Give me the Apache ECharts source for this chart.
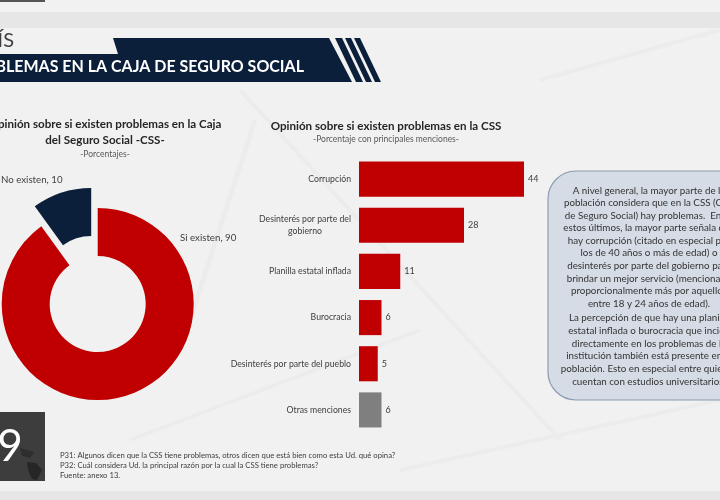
<!DOCTYPE html>
<html>
<head>
<meta charset="utf-8">
<style>html,body{margin:0;padding:0;background:#f0f0f0}#chart{width:720px;height:500px}</style>
<script src="https://cdn.jsdelivr.net/npm/echarts@6/dist/echarts.min.js"></script>
</head>
<body>
<div id="chart"></div>
<script>
// Encuesta: problemas en la Caja de Seguro Social
const pieNames = ['Si existen', 'No existen'];
const pieValues = [90, 10];
const barCategories = [
  'Corrupción',
  'Desinterés por parte del\ngobierno',
  'Planilla estatal inflada',
  'Burocracia',
  'Desinterés por parte del pueblo',
  'Otras menciones'
];
const barValues = [44, 28, 11, 6, 5, 6];
const RED = '#c00000', NAVY = '#0b1f3a', GREY = '#7f7f7f';
const FONT = 'Lato';

const noteLines1 = [
  'A nivel general, la mayor parte de la',
  'población considera que en la CSS (Caja',
  'de Seguro Social) hay problemas.  Entre',
  'estos últimos, la mayor parte señala que',
  'hay corrupción (citado en especial por',
  'los de 40 años o más de edad) o',
  'desinterés por parte del gobierno para',
  'brindar un mejor servicio (mencionado',
  'proporcionalmente más por aquellos',
  'entre 18 y 24 años de edad).'
];
const noteLines2 = [
  'La percepción de que hay una planilla',
  'estatal inflada o burocracia que incide',
  'directamente en los problemas de la',
  'institución también está presente en la',
  'población. Esto en especial entre quienes',
  'cuentan con estudios universitarios.'
];
const footnotes = [
  'P31: Algunos dicen que la CSS tiene problemas, otros dicen que está bien como esta Ud. qué opina?',
  'P32: Cuál considera Ud. la principal razón por la cual la CSS tiene problemas?',
  'Fuente: anexo 13.'
];

const poly = (points, fill, z) => ({ type: 'polygon', z: z, silent: true, shape: { points }, style: { fill } });
const rect = (x, y, width, height, fill, z) => ({ type: 'rect', z: z, silent: true, shape: { x, y, width, height }, style: { fill } });
const faint = (x1, y1, x2, y2, w) => ({
  type: 'line', z: -9, silent: true, shape: { x1, y1, x2, y2 },
  style: { stroke: '#ececec', lineWidth: w }
});
const text = (x, y, t, size, color, extra, scaleX) => ({
  type: 'text', z: 3, silent: true, x, y, scaleX: scaleX || 1,
  style: Object.assign({ text: t, fontFamily: FONT, fontSize: size, fill: color, align: 'center', verticalAlign: 'middle' }, extra || {})
});

const graphic = [
  // Fondo de la lámina
  rect(0, 0, 720, 500, '#f1f1f1', -10),
  rect(0, 12, 720, 16, '#e6e6e6', -9),
  rect(0, 491, 720, 9, '#e6e6e6', -9),
  rect(0, 0, 45, 2, '#555555', -8),
  faint(255, 120, 190, 320, 5),
  faint(240, 90, 560, 440, 4),
  faint(130, 440, 420, 330, 4),
  faint(540, 80, 720, 30, 4),
  faint(400, 470, 720, 400, 4),
  // Encabezado
  poly([[113, 38], [329, 38], [352, 82], [0, 82], [0, 54], [118, 54]], NAVY, 1),
  poly([[335, 38], [342, 38], [363, 82], [356, 82]], NAVY, 1),
  poly([[345, 38], [351, 38], [372, 82], [366, 82]], NAVY, 1),
  poly([[354, 38], [360, 38], [381, 82], [375, 82]], NAVY, 1),
  text(14, 41, 'PAÍS', 20, '#404040', { align: 'right' }),
  text(304, 67, 'PROBLEMAS EN LA CAJA DE SEGURO SOCIAL', 17, '#ffffff', { align: 'right', fontWeight: 'bold' }, 0.94),
  // Recuadro de comentario
  {
    type: 'rect', z: 1, silent: true,
    shape: { x: 548, y: 171, width: 210, height: 229, r: 28 },
    style: { fill: '#d6dce5', stroke: '#8c9bb0', lineWidth: 1.2 }
  },
  // Número de página
  rect(0, 412, 45, 69, '#3d3d3d', 1),
  poly([[27, 462], [36, 463], [42, 470], [37, 480], [32, 479], [28, 470]], '#262626', 2),
  poly([[20, 448], [34, 452], [30, 458], [22, 456]], '#2e2e2e', 2),
  text(10, 447, '9', 44, '#ffffff', { fontWeight: 'normal' })
];
noteLines1.forEach((t, i) => graphic.push(text(649, 190.7 + i * 12.52, t, 9.8, '#333333')));
noteLines2.forEach((t, i) => graphic.push(text(649, 318 + i * 12.72, t, 9.8, '#333333')));
footnotes.forEach((t, i) => graphic.push(text(60, 456 + i * 10, t, 7.7, '#404040', { align: 'left' })));

// Cada anillo muestra una sola porción; la otra queda transparente para conservar el ángulo.
const ring = (center, shown, color, labelPos) => ({
  type: 'pie',
  center,
  radius: [48, 96],
  startAngle: 90,
  silent: true,
  avoidLabelOverlap: false,
  data: pieNames.map((n, i) => ({
    name: n,
    value: pieValues[i],
    itemStyle: { color: i === shown ? color : 'transparent' },
    label: { show: i === shown }
  })),
  labelLayout: () => Object.assign({ align: 'left', verticalAlign: 'middle' }, labelPos),
  label: {
    position: 'outside', overflow: 'none', formatter: '{b}, {c}',
    fontFamily: FONT, fontSize: 9.7, color: '#404040'
  },
  labelLine: { show: false }
});

const chart = echarts.init(document.getElementById('chart'), null, { renderer: 'canvas' });
chart.setOption({
  animation: false,
  backgroundColor: 'transparent',
  textStyle: { fontFamily: FONT },
  title: [
    {
      text: 'Opinión sobre si existen problemas en la Caja\ndel Seguro Social -CSS-',
      subtext: '-Porcentajes-',
      left: 100, top: 111, textAlign: 'center', itemGap: 2,
      textStyle: { fontFamily: FONT, fontSize: 11.6, fontWeight: 'bold', color: '#262626', lineHeight: 16 },
      subtextStyle: { fontFamily: FONT, fontSize: 8.5, color: '#595959' }
    },
    {
      text: 'Opinión sobre si existen problemas en la CSS',
      subtext: '-Porcentaje con principales menciones-',
      left: 381, top: 113, textAlign: 'center', itemGap: 1,
      textStyle: { fontFamily: FONT, fontSize: 11.6, fontWeight: 'bold', color: '#262626', lineHeight: 16 },
      subtextStyle: { fontFamily: FONT, fontSize: 8.5, color: '#595959' }
    }
  ],
  graphic: { elements: graphic },
  grid: { left: 359, right: 196, top: 156, height: 277 },
  xAxis: { type: 'value', min: 0, max: 44, show: false },
  yAxis: {
    type: 'category',
    inverse: true,
    data: barCategories,
    axisLine: { show: false },
    axisTick: { show: false },
    splitLine: { show: false },
    axisLabel: {
      interval: 0,
      margin: 8,
      fontFamily: FONT,
      fontSize: 8.7,
      color: '#404040',
      lineHeight: 12,
      formatter: v => v.split('\n').map(s => '{c|' + s + '}').join('\n'),
      rich: { c: { align: 'center', fontFamily: FONT, fontSize: 8.7, color: '#404040', lineHeight: 12 } }
    }
  },
  series: [
    {
      type: 'bar',
      barCategoryGap: '24%',
      silent: true,
      data: barValues.map((v, i) => ({
        value: v,
        itemStyle: { color: i === barValues.length - 1 ? GREY : RED }
      })),
      label: {
        show: true, position: 'right', distance: 4,
        fontFamily: FONT, fontSize: 9, color: '#404040'
      }
    },
    ring([97.7, 304], 0, RED, { x: 180, y: 238 }),
    ring([91.2, 284], 1, NAVY, { x: 1, y: 180 })
  ]
});
</script>
</body>
</html>
